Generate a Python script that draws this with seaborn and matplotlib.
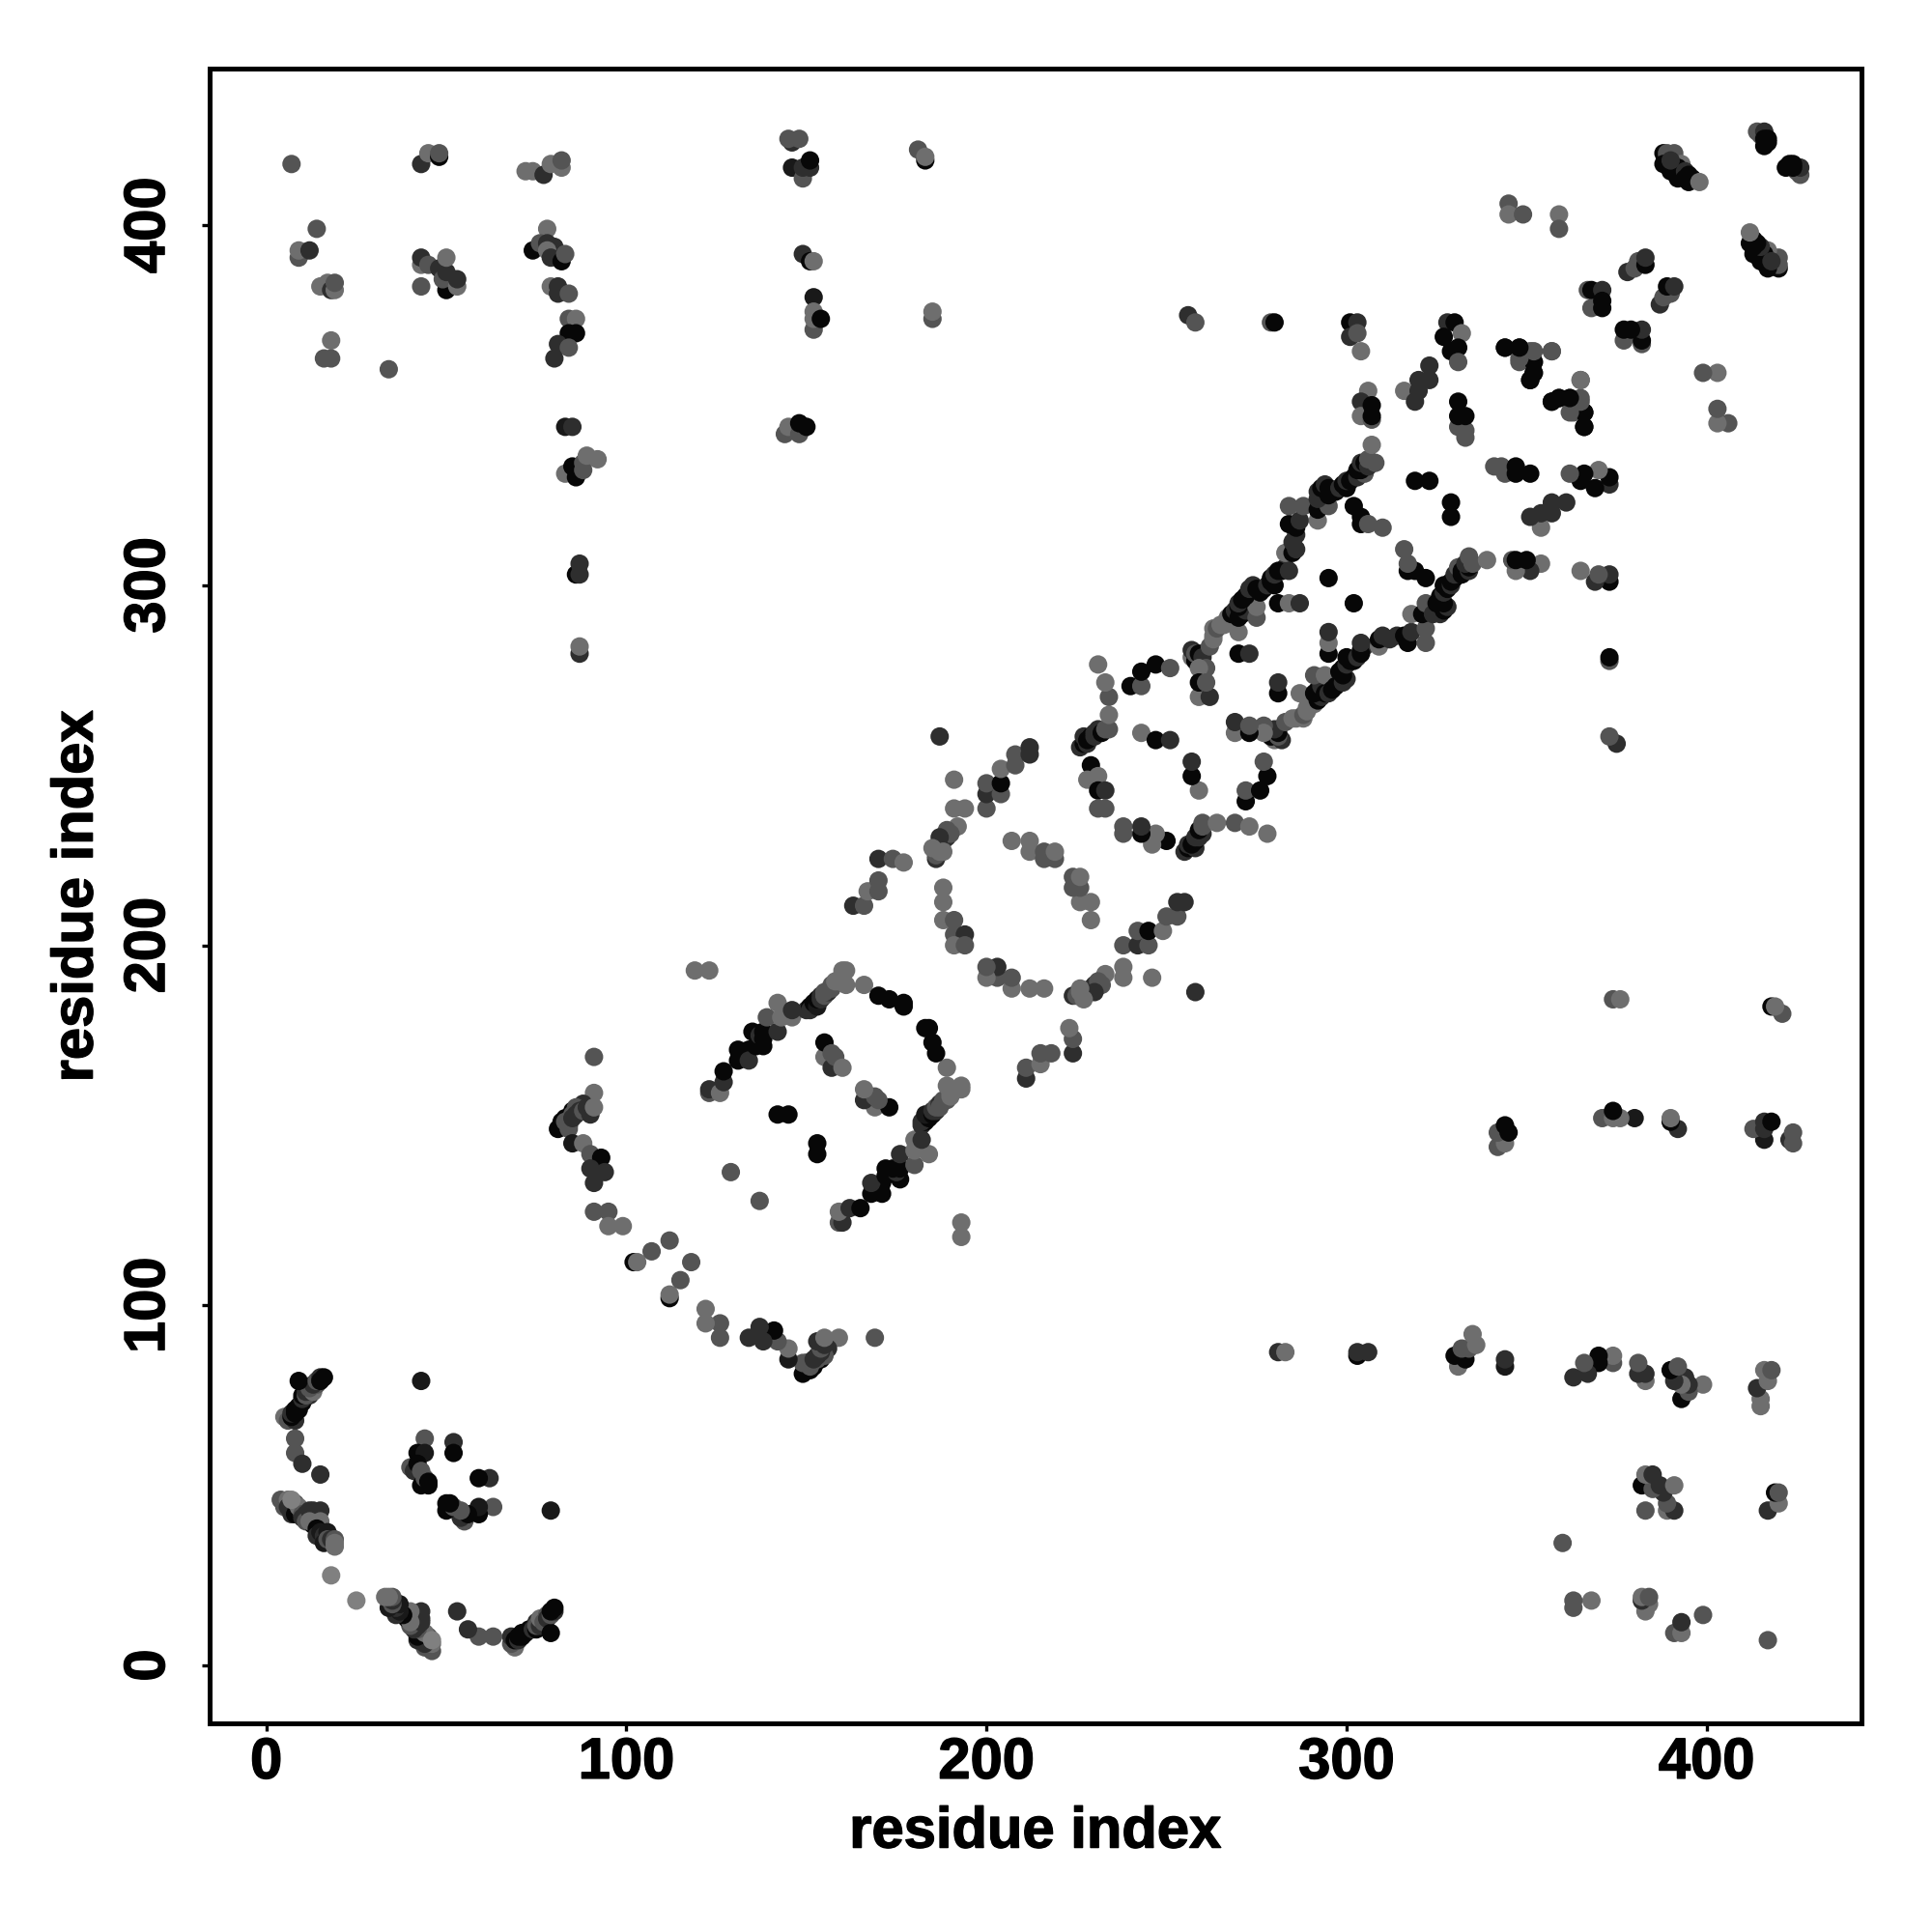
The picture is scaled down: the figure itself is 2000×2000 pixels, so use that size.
import matplotlib
matplotlib.use('Agg')
import matplotlib.pyplot as plt
import matplotlib.patheffects as pe
import pandas as pd
import seaborn as sns

# contacts, upper triangle only (i < j), the map is symmetric
# (residue i, residue j, grey level in percent)
n_arc = [(5, 69, 43), (6, 68, 33), (8, 68, 18), (7, 69, 3), (7, 70, 18), (8, 70, 3), (8, 71, 3), (9, 71, 3), (9, 72, 3),
         (10, 73, 3), (10, 74, 18), (10, 75, 3), (12, 75, 18), (11, 75, 33), (11, 76, 18), (13, 76, 43), (12, 77, 33),
         (14, 78, 33), (13, 78, 18), (9, 79, 3), (14, 79, 33), (15, 80, 18), (16, 80, 3), (15, 79, 3), (8, 63, 33),
         (8, 59, 33), (10, 56, 18), (15, 53, 18)]
n_core = [(43, 79, 10), (44, 63, 33), (52, 62, 18), (52, 59, 3), (42, 59, 3), (44, 59, 10), (40, 55, 33), (41, 54, 18),
          (42, 56, 3), (43, 54, 33), (44, 51, 18), (43, 50, 3), (45, 50, 3), (44, 52, 33), (45, 51, 3)]
n_low = [(4, 46, 33), (5, 44, 33), (6, 46, 43), (6, 44, 18), (7, 44, 18), (8, 45, 33), (7, 42, 18), (8, 42, 3),
         (9, 44, 43), (10, 42, 33), (10, 41, 18), (11, 42, 18), (11, 40, 33), (12, 43, 18), (13, 43, 18), (15, 43, 18),
         (13, 39, 3), (12, 40, 43), (15, 40, 43), (14, 38, 3), (14, 36, 18), (15, 37, 10), (16, 36, 18), (17, 37, 10),
         (16, 34, 10), (17, 35, 33), (18, 35, 18), (19, 35, 33), (19, 33, 43), (19, 34, 43), (7, 46, 50), (18, 25, 50)]
top_left = [(7, 417, 33), (43, 417, 18), (45, 420, 43), (48, 419, 3), (48, 420, 33), (72, 415, 43), (74, 415, 43),
            (77, 414, 18), (82, 416, 43), (79, 417, 43), (82, 418, 33), (14, 399, 33), (9, 391, 33), (9, 393, 43),
            (12, 393, 18), (15, 383, 43), (17, 384, 43), (18, 382, 18), (19, 382, 43), (19, 384, 33), (18, 368, 43),
            (18, 363, 33), (16, 363, 33), (34, 360, 33)]
col_43 = [(43, 389, 43), (43, 391, 18), (45, 389, 33), (43, 383, 33), (48, 388, 18), (50, 382, 3), (49, 385, 33),
          (50, 387, 18), (50, 391, 43), (53, 383, 43), (53, 385, 18)]
col_78 = [(74, 393, 3), (78, 399, 43), (76, 395, 33), (78, 395, 18), (80, 394, 18), (78, 393, 43), (79, 391, 18),
          (82, 390, 3), (83, 392, 33), (79, 383, 43), (81, 383, 18), (81, 381, 18), (84, 381, 33), (84, 374, 33),
          (86, 374, 43), (84, 370, 3), (86, 370, 3), (81, 367, 18), (84, 366, 33), (80, 363, 18), (83, 344, 10),
          (85, 344, 18), (83, 331, 43), (85, 333, 3), (86, 330, 3), (88, 332, 33), (88, 334, 33), (89, 336, 43),
          (92, 335, 43), (86, 303, 3), (87, 303, 18), (87, 306, 18), (87, 281, 18), (87, 283, 43)]
col_145 = [(146, 423, 18), (145, 424, 33), (148, 424, 33), (146, 416, 10), (149, 413, 33), (149, 416, 18),
           (151, 416, 18), (151, 418, 3), (181, 421, 33), (183, 418, 3), (183, 419, 43), (149, 392, 18), (151, 390, 3),
           (152, 390, 43), (152, 380, 10), (152, 371, 33), (152, 374, 43), (152, 376, 43), (154, 374, 3),
           (185, 374, 33), (185, 376, 43), (144, 342, 33), (145, 344, 43), (148, 342, 33), (148, 345, 3), (150, 344, 3)]
arc_90 = [(91, 169, 33), (91, 159, 43), (88, 156, 18), (85, 154, 3), (83, 152, 3), (84, 150, 3), (82, 150, 18),
          (81, 149, 3), (82, 151, 3), (83, 150, 3), (84, 152, 3), (85, 153, 33), (86, 155, 33), (87, 154, 18),
          (84, 149, 33), (83, 151, 33), (85, 152, 18), (86, 153, 18), (88, 154, 33), (90, 153, 18),
          (89, 155, 18), (91, 155, 43), (85, 145, 10), (88, 145, 43), (90, 142, 33), (93, 141, 3), (90, 138, 18),
          (94, 137, 18), (91, 134, 18), (91, 126, 33), (95, 126, 33), (95, 122, 43), (99, 122, 43), (102, 112, 3),
          (103, 112, 43), (107, 115, 33), (112, 118, 33)]
ring_1 = [(123, 159, 33), (123, 160, 18), (126, 159, 43), (127, 162, 18), (127, 165, 3), (131, 168, 3), (131, 171, 3),
          (133, 170, 3), (134, 171, 3), (134, 168, 18), (136, 172, 3), (138, 172, 3), (135, 176, 3), (137, 175, 18),
          (138, 174, 3), (138, 176, 3), (139, 180, 33), (142, 176, 18), (142, 184, 43), (143, 180, 43), (146, 180, 43),
          (146, 182, 18), (150, 182, 18), (151, 183, 3), (151, 182, 18), (152, 183, 18), (152, 184, 3), (153, 183, 10),
          (153, 185, 3), (154, 185, 18), (154, 186, 18), (155, 186, 33), (156, 187, 18), (155, 187, 33), (157, 188, 33),
          (157, 189, 33), (158, 190, 43), (159, 190, 43), (160, 193, 43), (161, 193, 43),
          (161, 189, 43), (166, 189, 43), (170, 186, 3), (173, 185, 3), (177, 183, 3), (177, 184, 3)]
ring_1_in = [(155, 169, 43), (155, 173, 3), (157, 166, 18), (157, 170, 33), (158, 169, 33), (160, 166, 43),
             (142, 153, 3), (145, 153, 3), (129, 137, 33), (119, 193, 43), (123, 193, 43)]
ring_2 = [(187, 258, 18), (191, 246, 43), (191, 238, 43), (194, 238, 43), (192, 233, 43), (189, 232, 33),
          (186, 224, 18), (186, 225, 33), (187, 226, 43), (187, 228, 33), (188, 229, 18), (189, 230, 18), (190, 231, 33),
          (187, 230, 18), (185, 227, 43), (188, 226, 43), (200, 238, 33), (200, 242, 18),
          (200, 245, 33), (204, 242, 33), (204, 245, 3), (204, 249, 43), (208, 250, 33), (208, 253, 33),
          (212, 253, 18), (212, 255, 18), (163, 211, 18), (166, 211, 33), (167, 215, 43), (170, 215, 33),
          (170, 218, 33), (170, 224, 18), (174, 224, 33), (177, 223, 43), (207, 229, 43), (212, 229, 43),
          (212, 226, 43), (216, 224, 33), (219, 224, 33), (216, 226, 33), (219, 226, 43), (188, 216, 43),
          (188, 212, 43), (188, 207, 43), (191, 207, 33), (191, 203, 33), (194, 203, 18), (191, 200, 43),
          (194, 200, 33)]
ring_3 = [(226, 255, 18), (227, 256, 3), (228, 256, 18), (227, 258, 18), (228, 257, 3), (229, 258, 3), (230, 258, 18),
          (230, 259, 18), (231, 260, 18), (232, 259, 3), (233, 260, 33), (234, 260, 33), (234, 264, 43),
          (234, 269, 33), (233, 273, 43), (231, 278, 43), (229, 250, 3), (228, 246, 43), (231, 247, 43), (231, 243, 3),
          (233, 243, 18), (231, 238, 33), (233, 238, 33), (240, 272, 3), (243, 272, 33), (243, 276, 3), (247, 278, 3),
          (251, 277, 33), (243, 259, 43), (247, 257, 3), (251, 257, 18)]
band = [(257, 280, 43), (257, 282, 18), (258, 279, 3), (258, 281, 33), (259, 281, 3), (260, 280, 18), (260, 278, 18),
        (261, 277, 33), (259, 277, 43), (259, 269, 43), (262, 269, 18), (259, 273, 3),
        (261, 273, 33), (262, 283, 33), (263, 285, 43), (263, 286, 43), (263, 288, 43), (264, 288, 33), (265, 289, 43),
        (266, 289, 43), (267, 291, 43), (269, 290, 43), (270, 287, 43), (268, 292, 3), (269, 293, 18),
        (270, 281, 3), (273, 281, 18), (270, 291, 3), (271, 292, 3), (272, 293, 18), (270, 294, 3), (270, 295, 18),
        (275, 291, 33), (275, 294, 43), (271, 296, 3), (272, 297, 3), (273, 299, 18),
        (274, 300, 18), (275, 299, 3), (276, 298, 3), (277, 299, 3), (278, 300, 18), (281, 295, 3), (284, 295, 43),
        (287, 295, 18), (279, 301, 3), (279, 302, 3), (280, 300, 3), (280, 303, 18), (282, 304, 3), (283, 305, 18),
        (281, 304, 3), (284, 304, 18), (283, 309, 43), (285, 309, 3), (286, 310, 18), (285, 312, 18), (286, 314, 18),
        (286, 316, 3), (284, 317, 3), (287, 318, 18),
        (292, 318, 43), (284, 322, 33), (288, 322, 33), (292, 321, 3), (295, 322, 33), (292, 324, 18), (292, 326, 18),
        (293, 327, 3), (294, 328, 18), (295, 325, 3), (295, 327, 3), (297, 326, 3), (298, 327, 18), (299, 328, 3),
        (300, 327, 3), (300, 329, 18), (301, 329, 3), (302, 330, 3), (303, 330, 18), (305, 331, 33), (303, 332, 3),
        (304, 332, 3), (304, 334, 18), (305, 334, 3), (306, 333, 18), (306, 335, 33),
        (308, 334, 33), (307, 339, 43), (295, 302, 3), (302, 322, 3), (304, 319, 3), (304, 317, 3), (306, 317, 33),
        (310, 316, 33), (319, 329, 3), (323, 329, 3)]
col_280 = [(256, 375, 18), (258, 373, 33), (279, 373, 33), (280, 373, 3), (301, 373, 3), (303, 373, 18),
           (301, 369, 18), (303, 370, 33), (304, 365, 43), (328, 373, 18), (330, 373, 3), (327, 369, 3), (332, 370, 43),
           (329, 365, 3), (331, 366, 3), (331, 362, 33), (344, 366, 3), (348, 366, 3), (351, 365, 33), (357, 365, 43),
           (348, 362, 33), (352, 362, 3), (352, 359, 3), (351, 357, 3), (365, 357, 33), (357, 351, 3), (359, 352, 3),
           (362, 352, 3), (365, 352, 33), (363, 348, 33), (366, 348, 3), (366, 344, 3), (323, 361, 18), (323, 357, 18),
           (320, 357, 18), (316, 354, 43), (319, 351, 18), (320, 354, 18), (306, 354, 43), (304, 351, 18), (304, 347, 43),
           (307, 346, 33), (307, 350, 3), (307, 347, 3), (331, 344, 33), (333, 343, 33), (333, 341, 33), (331, 351, 3),
           (331, 347, 3), (333, 347, 3)]
top_right = [(367, 382, 33), (368, 377, 33), (368, 382, 3), (371, 382, 18), (371, 377, 3), (371, 379, 3),
             (378, 387, 18), (380, 388, 33), (381, 390, 33), (383, 389, 3), (383, 391, 18), (345, 406, 33),
             (345, 403, 43), (349, 403, 33), (359, 403, 43), (359, 399, 33), (388, 420, 3), (389, 419, 18), (389, 420, 33),
             (391, 420, 33), (388, 417, 3), (390, 417, 3), (391, 416, 3), (393, 417, 43), (390, 415, 3), (392, 416, 3),
             (392, 413, 3), (393, 414, 3), (394, 415, 18), (394, 413, 3), (395, 414, 3), (395, 412, 3), (396, 413, 3),
             (398, 412, 43), (390, 418, 18), (414, 426, 33), (415, 425, 33), (416, 426, 18), (416, 424, 3), (416, 422, 3),
             (417, 424, 3), (417, 423, 3)]

ticks = [0, 100, 200, 300, 400]
axis_label = 'residue index'

contacts = (n_arc + n_core + n_low + top_left + col_43 + col_78 + col_145 + arc_90 + ring_1 + ring_1_in
            + ring_2 + ring_3 + band + col_280 + top_right)

half = pd.DataFrame(contacts, columns=['i', 'j', 'grey'])
mirror = half.rename(columns={'i': 'j', 'j': 'i'})
data = pd.concat([half, mirror], ignore_index=True)
data['grey'] = data['grey'] / 100

sns.set_style('white')
plt.rcParams['font.family'] = ['Liberation Sans', 'DejaVu Sans']
plt.rcParams['font.weight'] = 'bold'

fig, ax = plt.subplots(figsize=(10, 10), dpi=200)
fig.subplots_adjust(left=0.1084, right=0.9635, top=0.9643, bottom=0.108)

sns.scatterplot(data=data, x='i', y='j', hue='grey', palette='gray', hue_norm=(0, 1),
                s=47, linewidth=0, alpha=1, legend=False, ax=ax)

ax.set_xlim(-15.8, 443)
ax.set_ylim(-16.1, 443.4)
ax.set_xticks(ticks)
ax.set_yticks(ticks)
ax.tick_params(axis='x', length=3, width=1.2, color='black', labelsize=21.5, labelcolor='black', pad=2, bottom=True)
ax.tick_params(axis='y', length=3, width=1.2, color='black', labelsize=21.5, labelcolor='black', pad=9.5, left=True)
for t in ax.get_yticklabels():
    t.set_rotation(90)
    t.set_va('center')
ax.set_xlabel(axis_label, fontsize=21.5, fontweight='bold', color='black', labelpad=6)
ax.set_ylabel(axis_label, fontsize=21.5, fontweight='bold', color='black', labelpad=7)

# the original lettering is a bit heavier than Liberation bold
heavy = [pe.withStroke(linewidth=0.5, foreground='black')]
for t in ax.get_xticklabels() + ax.get_yticklabels() + [ax.xaxis.label, ax.yaxis.label]:
    t.set_path_effects(heavy)

for s in ax.spines.values():
    s.set_visible(True)
    s.set_color('black')
    s.set_linewidth(1.8)

plt.savefig('out.png', dpi=200)
